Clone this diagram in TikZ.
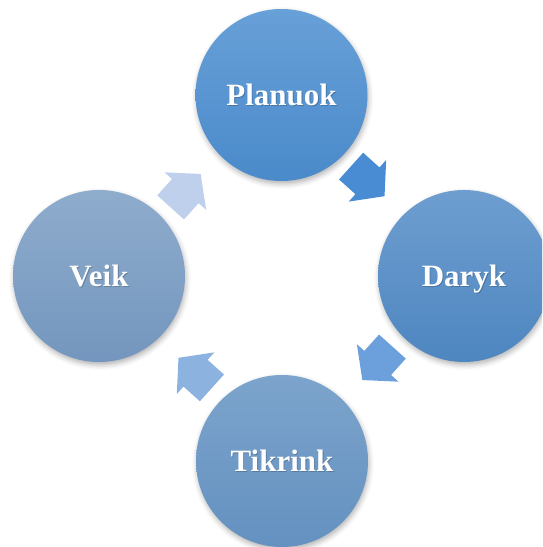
\documentclass[tikz,border=0pt]{standalone}
\usepackage{fontspec}
\setmainfont{Liberation Serif}
\usetikzlibrary{calc,shadows.blur}

% white label with a faint dark offset copy underneath
\newcommand\embossed[1]{\makebox[0pt][l]{\hspace*{0.9pt}\raisebox{-1.3pt}{\pgfsetfillopacity{0.2}\color{black}#1\pgfsetfillopacity{1}}}#1}

\definecolor{planTop}{RGB}{104,160,216}
\definecolor{planBot}{RGB}{74,138,202}
\definecolor{darTop}{RGB}{110,158,208}
\definecolor{darBot}{RGB}{78,134,192}
\definecolor{tikTop}{RGB}{124,164,204}
\definecolor{tikBot}{RGB}{100,145,192}
\definecolor{veiTop}{RGB}{142,172,204}
\definecolor{veiBot}{RGB}{116,150,190}
\definecolor{arrA}{RGB}{74,140,212}
\definecolor{arrB}{RGB}{108,160,220}
\definecolor{arrC}{RGB}{140,178,224}
\definecolor{arrD}{RGB}{190,208,236}

\begin{document}
\begin{tikzpicture}[x=1pt,y=1pt,
  stage/.style={circle, minimum size=172pt, inner sep=0pt, text=white,
    text height=21pt, text depth=0pt,
    font=\bfseries\fontsize{31}{31}\selectfont,
    blur shadow={shadow xshift=1pt, shadow yshift=-3pt, shadow opacity=30, shadow blur radius=5pt}},
  turnshadow/.style={blur shadow={shadow xshift=1.5pt, shadow yshift=-3pt, shadow opacity=30, shadow blur radius=4pt}},
  cyclearrow/.pic={
    \path[pic actions] (-22.5,-18) -- (-0.5,-18) -- (-0.5,-28) -- (22.5,0)
      -- (-0.5,28) -- (-0.5,18) -- (-22.5,18) -- cycle;
  }
]
\useasboundingbox (0,0) rectangle (542,547);
\clip (0,0) rectangle (542,547);

\coordinate (hub) at (281.5,270);

% the four stages
\node[stage, top color=planTop, bottom color=planBot] (plan) at (281.5,452) {\embossed{Planuok}};
\node[stage, top color=darTop, bottom color=darBot] (dar) at (464,271) {\embossed{Daryk}};
\node[stage, top color=tikTop, bottom color=tikBot] (tik) at (282,86) {\embossed{Tikrink}};
\node[stage, top color=veiTop, bottom color=veiBot] (vei) at (99,271) {\embossed{Veik}};

% clockwise block arrows between the stages
\pic[fill=arrA, draw=none, turnshadow, rotate=-42] at ($(hub)+(48:129)$) {cyclearrow};
\pic[fill=arrB, draw=none, turnshadow, rotate=-132] at ($(hub)+(-42:129)$) {cyclearrow};
\pic[fill=arrC, draw=none, turnshadow, rotate=138] at ($(hub)+(-132:129)$) {cyclearrow};
\pic[fill=arrD, draw=none, turnshadow, rotate=48] at ($(hub)+(138:129)$) {cyclearrow};
\end{tikzpicture}
\end{document}
